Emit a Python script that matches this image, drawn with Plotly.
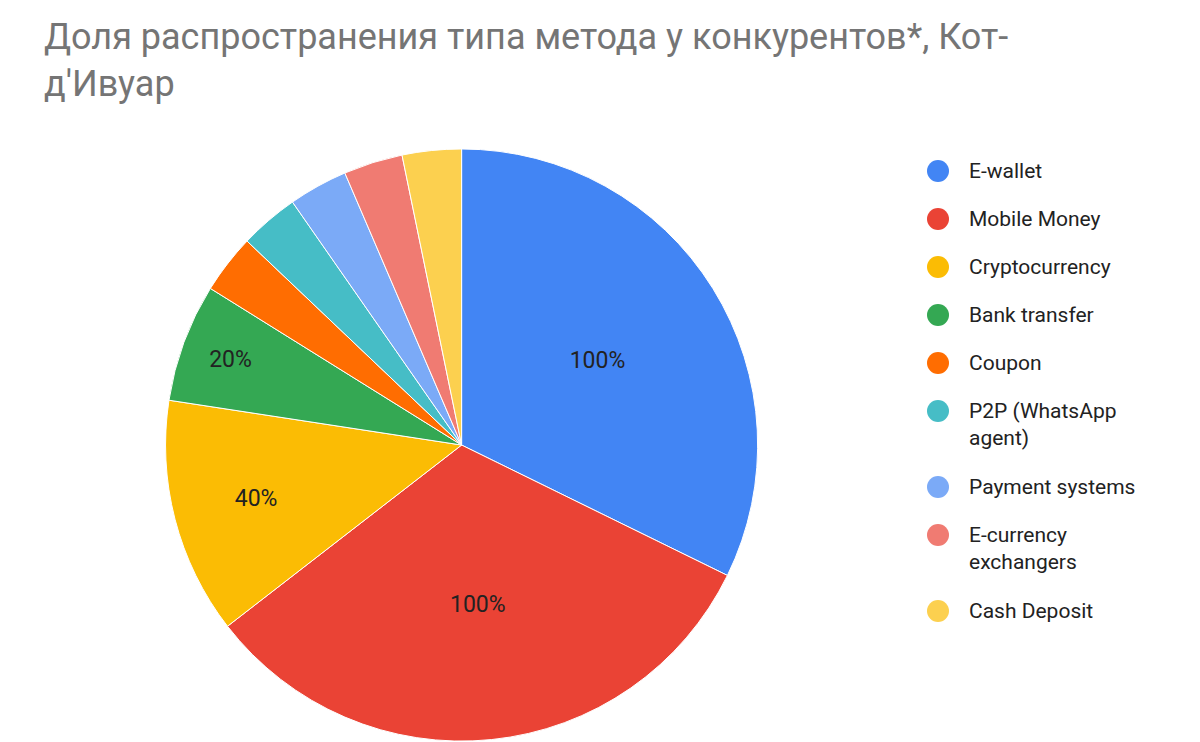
import plotly.graph_objects as go

methods = ["E-wallet", "Mobile Money", "Cryptocurrency", "Bank transfer", "Coupon",
           "P2P (WhatsApp<br>agent)", "Payment systems", "E-currency<br>exchangers", "Cash Deposit"]
share = [100, 100, 40, 20, 10, 10, 10, 10, 10]
colors = ["#4285f4", "#ea4335", "#fbbc04", "#34a853", "#ff6d01",
          "#46bdc6", "#7baaf7", "#f07b72", "#fcd04f"]

# only the bigger slices get a label
labels_txt = [f"{v}%" if v >= 20 else "" for v in share]

fig = go.Figure(go.Pie(
    labels=methods,
    values=share,
    text=labels_txt,
    textinfo="text",
    textposition="inside",
    insidetextorientation="horizontal",
    textfont=dict(size=23, color="#222222"),
    marker=dict(colors=colors, line=dict(color="white", width=1)),
    sort=False,
    direction="clockwise",
    rotation=0,
    showlegend=False,
    domain=dict(x=[0.131, 0.625], y=[0.012, 0.810]),
))

# hand-drawn legend, google-sheets style (round markers, wide spacing)
W, H = 1200, 742
y_px = 163
for name, col in zip(methods, colors):
    lines = name.count("<br>") + 1
    yc = 1 - y_px / H
    fig.add_shape(type="circle", xref="paper", yref="paper",
                  x0=(919) / W, x1=(941) / W, y0=yc - 11 / H, y1=yc + 11 / H,
                  fillcolor=col, line=dict(width=0))
    fig.add_annotation(x=959 / W, y=1 - (y_px - 14) / H, xref="paper", yref="paper",
                       xanchor="left", yanchor="top", align="left", showarrow=False,
                       text=name, font=dict(size=21, color="#222222"))
    y_px += 48 + 28 * (lines - 1)

fig.update_layout(
    width=W, height=H,
    paper_bgcolor="white",
    margin=dict(l=0, r=0, t=0, b=0),
    font=dict(family="Roboto, Arial, sans-serif"),
    title=dict(text="Доля распространения типа метода у конкурентов*, Кот-<br>д'Ивуар",
               x=0.03, xanchor="left", y=0.945, yanchor="top",
               font=dict(size=36, color="#757575")),
)

fig.write_html("out.html")
